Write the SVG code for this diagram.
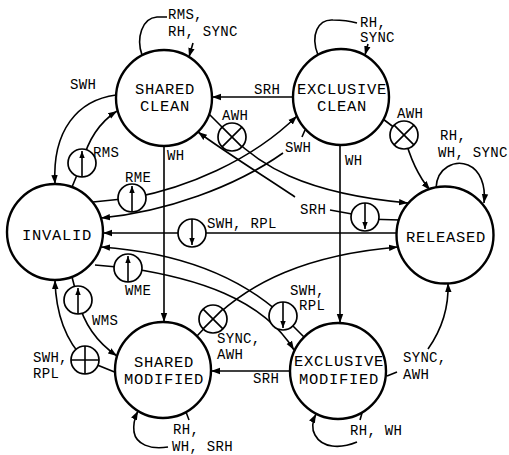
<svg xmlns="http://www.w3.org/2000/svg" width="509" height="455" viewBox="0 0 509 455">
<defs>
<marker id="ah" markerUnits="userSpaceOnUse" markerWidth="10" markerHeight="8" refX="9" refY="4" orient="auto"><path d="M0,0.8 L9,4 L0,7.2 z" fill="#000"/></marker>
<marker id="as" markerUnits="userSpaceOnUse" markerWidth="8" markerHeight="7" refX="7" refY="3.5" orient="auto"><path d="M0,0.8 L7,3.5 L0,6.2 z" fill="#000"/></marker>
</defs>
<style>
.n{fill:#fff;stroke:#000;stroke-width:2.4}
.nt{font-family:"Liberation Mono",monospace;font-size:15.5px;letter-spacing:0.7px;text-anchor:middle;fill:#000}
.c{fill:none;stroke:#000;stroke-width:1.6}
.a{marker-end:url(#ah)}
.s{fill:none;stroke:#000;stroke-width:1.6;marker-end:url(#as)}
.g{fill:#fff;stroke:#000;stroke-width:1.7}
.l{font-family:"Liberation Mono",monospace;font-size:14px;letter-spacing:0.3px;fill:#000}
</style>
<rect width="509" height="455" fill="#fff"/>
<g id="connectors">
<!-- self loops -->
<path class="c" d="M142,55 C136,38 142,18 157,17 L167,17"/>
<path class="c a" d="M193,43 L189,57"/>
<path class="c" d="M318,55 C310,35 318,19 333,20 C343,20 350,21 357,23"/>
<path class="c a" d="M368,44 L365,55"/>
<path class="c a" d="M436,188 C437,167 455,160 468,165 C480,170 486,185 484,203"/>
<path class="c a" d="M168,447 C150,450 136,444 134,432 C133,424 135,417 138,411"/>
<path class="c" d="M186,412 L189,420"/>
<path class="c a" d="M357,442 C340,449 322,448 315,435 C311,428 313,420 316,414"/>
<path class="c" d="M362,413 L360,420"/>
<!-- straight edges -->
<path class="c a" d="M293,97 L212,97"/>
<path class="c a" d="M164,146 L164,322"/>
<path class="c a" d="M340,145 L340,323"/>
<path class="c a" d="M290,371 L211,371"/>
<!-- SC -> INVALID SWH -->
<path class="c a" d="M116,95 C78,100 52,130 55,184"/>
<!-- INVALID -> SC RMS -->
<path class="c a" d="M72,187 L82,163 C88,140 100,122 117,111"/>
<!-- INVALID -> EC RME -->
<path class="c a" d="M93,202 L132,198 C185,188 250,162 297,116"/>
<!-- EC -> INVALID SWH -->
<path class="c" d="M305,130 L302,137"/>
<path class="c a" d="M283,153 C235,187 165,212 101,218"/>
<!-- RELEASED -> INVALID SWH,RPL -->
<path class="c a" d="M400,233 L103,233"/>
<!-- RELEASED -> SC SRH -->
<path class="c" d="M400,220 L365,219"/>
<path class="c" d="M330,210 L352,214"/>
<path class="c a" d="M295,197 C270,180 225,152 198,132"/>
<!-- SC -> RELEASED AWH -->
<path class="c a" d="M205,110 L232,137 C258,163 300,193 408,203"/>
<!-- EC -> RELEASED AWH -->
<path class="c a" d="M383,119 L404,135 Q413,170 430,190"/>
<!-- INVALID -> SM WMS -->
<path class="c a" d="M72,277 L78,300 C84,325 98,343 117,356"/>
<!-- SM -> INVALID SWH,RPL -->
<path class="c a" d="M117,373 L85,360 C70,345 56,320 55,280"/>
<!-- INVALID -> EM WME -->
<path class="c a" d="M95,265 L128,268 C195,278 262,298 294,350"/>
<!-- EM -> INVALID SWH,RPL -->
<path class="c a" d="M304,337 L283,316 C235,272 170,252 101,247"/>
<!-- SM -> RELEASED SYNC,AWH -->
<path class="c a" d="M197,336 L213,319 C250,283 305,255 398,247"/>
<!-- EM -> RELEASED SYNC,AWH -->
<path class="c" d="M387,376 L397,372"/>
<path class="c a" d="M428,349 C440,332 449,310 448,283"/>
<!-- gates -->
<g id="gate-rms"><circle class="g" cx="82" cy="163" r="14"/><path class="s" d="M82,177 L82,151"/></g>
<g id="gate-rme"><circle class="g" cx="132" cy="198" r="14"/><path class="s" d="M132,212 L132,186"/></g>
<g id="gate-swh-rpl-rel"><circle class="g" cx="192" cy="233" r="14"/><path class="s" d="M192,219 L192,245"/></g>
<g id="gate-srh"><circle class="g" cx="365" cy="217" r="14"/><path class="s" d="M365,203 L365,229"/></g>
<g id="gate-wme"><circle class="g" cx="128" cy="268" r="14"/><path class="s" d="M128,282 L128,256"/></g>
<g id="gate-wms"><circle class="g" cx="78" cy="300" r="14"/><path class="s" d="M78,314 L78,288"/></g>
<g id="gate-swh-rpl-em"><circle class="g" cx="283" cy="316" r="14"/><path class="s" d="M283,302 L283,328"/></g>
<g id="gate-plus"><circle class="g" cx="85" cy="360" r="14"/><path class="c" d="M71,360 L99,360 M85,346 L85,374"/></g>
<g id="gate-awh-sc"><circle class="g" cx="232" cy="137" r="14"/><path class="c" d="M222.1,127.1 L241.9,146.9 M241.9,127.1 L222.1,146.9"/></g>
<g id="gate-awh-ec"><circle class="g" cx="404" cy="135" r="14"/><path class="c" d="M394.1,125.1 L413.9,144.9 M413.9,125.1 L394.1,144.9"/></g>
<g id="gate-sync-awh"><circle class="g" cx="213" cy="319" r="14"/><path class="c" d="M203.1,309.1 L222.9,328.9 M222.9,309.1 L203.1,328.9"/></g>
<!-- labels -->
<text class="l" x="168" y="19">RMS,</text>
<text class="l" x="168" y="36">RH, SYNC</text>
<text class="l" x="360" y="27">RH,</text>
<text class="l" x="360" y="42">SYNC</text>
<text class="l" x="70" y="89">SWH</text>
<text class="l" x="254" y="94">SRH</text>
<text class="l" x="222" y="120">AWH</text>
<text class="l" x="397" y="118">AWH</text>
<text class="l" x="440" y="140">RH,</text>
<text class="l" x="438" y="157">WH, SYNC</text>
<text class="l" x="93" y="157">RMS</text>
<text class="l" x="167" y="160">WH</text>
<text class="l" x="345" y="165">WH</text>
<text class="l" x="125" y="182">RME</text>
<text class="l" x="285" y="152">SWH</text>
<text class="l" x="300" y="214">SRH</text>
<text class="l" x="207" y="228">SWH, RPL</text>
<text class="l" x="125" y="295">WME</text>
<text class="l" x="290" y="295">SWH,</text>
<text class="l" x="299" y="310">RPL</text>
<text class="l" x="92" y="325">WMS</text>
<text class="l" x="217" y="343">SYNC,</text>
<text class="l" x="217" y="359">AWH</text>
<text class="l" x="33" y="362">SWH,</text>
<text class="l" x="33" y="378">RPL</text>
<text class="l" x="253" y="383">SRH</text>
<text class="l" x="403" y="362">SYNC,</text>
<text class="l" x="403" y="379">AWH</text>
<text class="l" x="173" y="434">RH,</text>
<text class="l" x="172" y="451">WH, SRH</text>
<text class="l" x="350" y="435">RH, WH</text>
</g>
<g id="shared-clean"><circle class="n" cx="164" cy="98" r="48"/><text class="nt" x="165" y="94">SHARED</text><text class="nt" x="165" y="111">CLEAN</text></g>
<g id="exclusive-clean"><circle class="n" cx="341" cy="97" r="48"/><text class="nt" x="342" y="94">EXCLUSIVE</text><text class="nt" x="342" y="111">CLEAN</text></g>
<g id="invalid"><circle class="n" cx="55" cy="232" r="48"/><text class="nt" x="57" y="240">INVALID</text></g>
<g id="released"><circle class="n" cx="445" cy="235" r="48.5"/><text class="nt" x="446" y="242">RELEASED</text></g>
<g id="shared-modified"><circle class="n" cx="163" cy="370" r="48"/><text class="nt" x="164" y="367">SHARED</text><text class="nt" x="164" y="384">MODIFIED</text></g>
<g id="exclusive-modified"><circle class="n" cx="338" cy="371" r="48"/><text class="nt" x="339" y="366">EXCLUSIVE</text><text class="nt" x="339" y="384">MODIFIED</text></g>
</svg>
